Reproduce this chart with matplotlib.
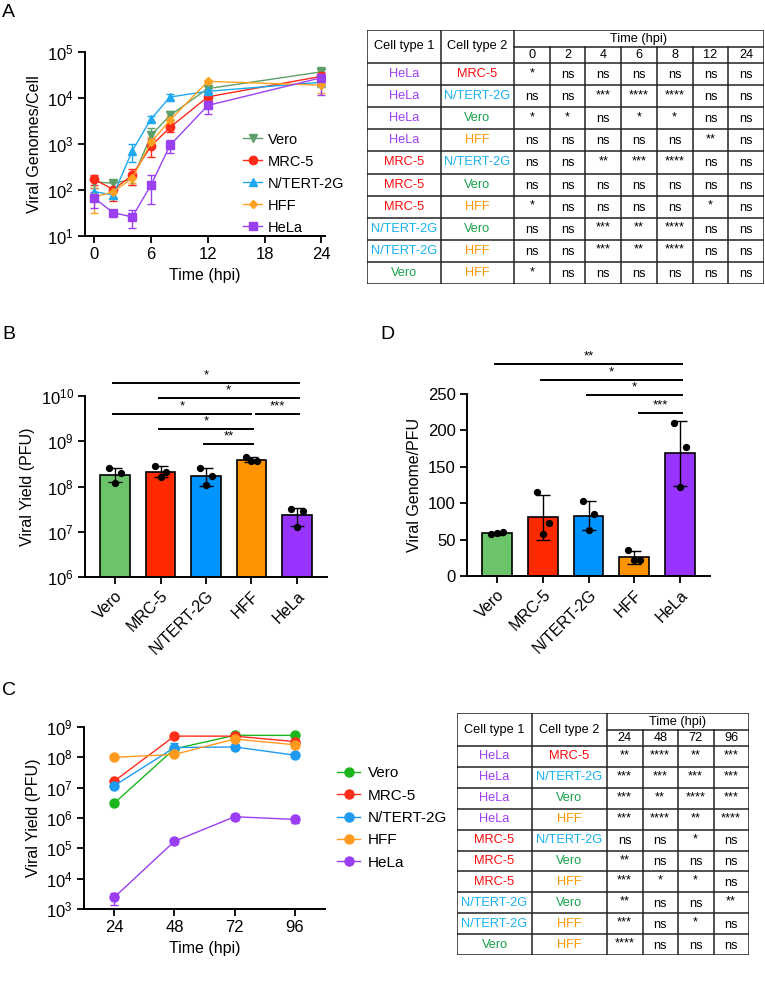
import numpy as np
import matplotlib
matplotlib.use('Agg')
import matplotlib.pyplot as plt
from matplotlib.ticker import LogLocator, NullLocator

plt.rcParams['font.family'] = ['Liberation Sans', 'DejaVu Sans']

# ---- data ----
cells = ['Vero', 'MRC-5', 'N/TERT-2G', 'HFF', 'HeLa']

# panel A: viral genomes per cell
a_time = [0, 2, 4, 6, 8, 12, 24]
a_vero = [150, 140, 170, 1550, 4200, 16000, 37000]
a_mrc5 = [170, 102, 210, 910, 2300, 10600, 29500]
a_ntert = [92, 78, 710, 3550, 10500, 14000, 22000]
a_hff = [70, 92, 180, 1100, 3300, 23000, 19000]
a_hela = [66, 32, 26, 130, 940, 6900, 27500]
a_vero_sd = [40, 25, 40, 650, 900, 3000, 10000]
a_mrc5_sd = [40, 45, 80, 400, 500, 3000, 8000]
a_ntert_sd = [20, 15, 300, 600, 1500, 2000, 5000]
a_hff_sd = [38, 20, 40, 300, 700, 2000, 6000]
a_hela_sd = [25, 3, 11, 80, 300, 2500, 16000]

# panel B: viral yield
b_mean = [1.8e8, 2.1e8, 1.75e8, 3.9e8, 2.35e7]
b_lo = [1.23e8, 1.65e8, 1.04e8, 3.5e8, 1.35e7]
b_hi = [2.5e8, 2.8e8, 2.55e8, 4.5e8, 3.4e7]
b_pts = [[2.5e8, 1.95e8, 1.2e8], [2.9e8, 2.1e8, 1.66e8], [2.6e8, 1.75e8, 1.07e8],
         [4.6e8, 3.6e8, 3.6e8], [3.2e7, 2.9e7, 1.26e7]]
b_sig = [(0, 4, '*'), (1, 4, '*'), (0, 3, '*'), (3, 4, '***'), (1, 3, '*'), (2, 3, '**')]

# panel D: genome / PFU
d_mean = [58.6, 80.6, 82.9, 25.6, 168.5]
d_sd = [2, 30.5, 19.5, 9, 44.5]
d_pts = [[57.2, 60.9, 59.5], [114.9, 72.8, 57.2], [103, 84.7, 63.2],
         [35.7, 22, 22], [209.7, 177.7, 121.8]]
d_sig = [(0, 4, '**'), (1, 4, '*'), (2, 4, '*'), (3, 4, '***')]

# panel C: yield over time
c_time = [24, 48, 72, 96]
c_vero = [3.05e6, 1.9e8, 5.3e8, 5.3e8]
c_mrc5 = [1.63e7, 5.0e8, 5.0e8, 3.3e8]
c_ntert = [1.15e7, 2.1e8, 2.2e8, 1.18e8]
c_hff = [1.0e8, 1.25e8, 4.0e8, 2.6e8]
c_hela = [2.4e3, 1.7e5, 1.1e6, 9.0e5]
c_ntert_sd = [1e6, 9e7, 2e7, 1e7]
c_hela_sd = [1000, 15000, 250000, 200000]

# statistics tables
pairs = [('HeLa', 'MRC-5'), ('HeLa', 'N/TERT-2G'), ('HeLa', 'Vero'), ('HeLa', 'HFF'),
         ('MRC-5', 'N/TERT-2G'), ('MRC-5', 'Vero'), ('MRC-5', 'HFF'),
         ('N/TERT-2G', 'Vero'), ('N/TERT-2G', 'HFF'), ('Vero', 'HFF')]
ta_times = ['0', '2', '4', '6', '8', '12', '24']
ta_sig = [['*', 'ns', 'ns', 'ns', 'ns', 'ns', 'ns'],
          ['ns', 'ns', '***', '****', '****', 'ns', 'ns'],
          ['*', '*', 'ns', '*', '*', 'ns', 'ns'],
          ['ns', 'ns', 'ns', 'ns', 'ns', '**', 'ns'],
          ['ns', 'ns', '**', '***', '****', 'ns', 'ns'],
          ['ns', 'ns', 'ns', 'ns', 'ns', 'ns', 'ns'],
          ['*', 'ns', 'ns', 'ns', 'ns', '*', 'ns'],
          ['ns', 'ns', '***', '**', '****', 'ns', 'ns'],
          ['ns', 'ns', '***', '**', '****', 'ns', 'ns'],
          ['*', 'ns', 'ns', 'ns', 'ns', 'ns', 'ns']]
tc_times = ['24', '48', '72', '96']
tc_sig = [['**', '****', '**', '***'],
          ['***', '***', '***', '***'],
          ['***', '**', '****', '***'],
          ['***', '****', '**', '****'],
          ['ns', 'ns', '*', 'ns'],
          ['**', 'ns', 'ns', 'ns'],
          ['***', '*', '*', 'ns'],
          ['**', 'ns', 'ns', '**'],
          ['***', 'ns', '*', 'ns'],
          ['****', 'ns', 'ns', 'ns']]

text_col = {'HeLa': '#9E3FF2', 'MRC-5': '#FF0A0A', 'N/TERT-2G': '#16B2F0',
            'Vero': '#18A04A', 'HFF': '#FF9500'}
bar_col = ['#6CC46A', '#FF2A00', '#0094FF', '#FF9400', '#9933FF']

W, H = 765, 984
fig = plt.figure(figsize=(W / 100, H / 100), dpi=100)


def px_axes(l, t, r, b):
    return fig.add_axes([l / W, 1 - b / H, (r - l) / W, (b - t) / H])


def style(ax):
    ax.spines['top'].set_visible(False)
    ax.spines['right'].set_visible(False)
    for s in ['left', 'bottom']:
        ax.spines[s].set_linewidth(1.4)
    ax.tick_params(width=1.3, length=5, labelsize=12, pad=3)


# ---- A ----
ax = px_axes(85, 52, 325, 236)
style(ax)
a_series = [(a_vero, a_vero_sd, 'v', '#5E9E68', 6),
            (a_mrc5, a_mrc5_sd, 'o', '#FF2A1A', 6),
            (a_ntert, a_ntert_sd, '^', '#1EA8F0', 5.5),
            (a_hff, a_hff_sd, 'D', '#FFA020', 4),
            (a_hela, a_hela_sd, 's', '#9B40F0', 6)]
handles = []
for name, (y, e, m, c, ms) in zip(cells, a_series):
    eb = ax.errorbar(a_time, y, yerr=e, marker=m, color=c, ms=ms, lw=1, capsize=3,
                     elinewidth=1, label=name)
    handles.append(eb[0])
ax.set_yscale('log')
ax.set_ylim(10, 1e5)
ax.set_xlim(-1, 24.4)
ax.set_xticks([0, 6, 12, 18, 24])
ax.yaxis.set_minor_locator(NullLocator())
ax.set_xlabel('Time (hpi)', fontsize=11.5)
ax.set_ylabel('Viral Genomes/Cell', fontsize=11.5)
ax.legend(handles, cells, loc='center left', bbox_to_anchor=(0.66, 0.285), frameon=False,
          fontsize=10.5, borderaxespad=0, borderpad=0, handlelength=1.3,
          handletextpad=0.4, labelspacing=0.55)


def draw_table(l, t, r, b, times, sig, c1, c2, hh, fs=9.2):
    tab = px_axes(l, t, r, b)
    w, h = r - l, b - t
    tab.set_xlim(0, w)
    tab.set_ylim(h, 0)
    tab.axis('off')
    n = len(times)
    tw = (w - c1 - c2) / n
    rh = (h - hh) / len(sig)
    lc = '#222222'
    lw = 1.1
    # vertical lines
    for x in [0, c1, c1 + c2, w]:
        tab.plot([x, x], [0, h], color=lc, lw=lw)
    for i in range(1, n):
        x = c1 + c2 + i * tw
        tab.plot([x, x], [hh / 2, h], color=lc, lw=lw)
    # horizontal lines
    for i in range(len(sig) + 1):
        y = hh + i * rh
        tab.plot([0, w], [y, y], color=lc, lw=lw)
    tab.plot([0, w], [0, 0], color=lc, lw=lw)
    tab.plot([c1 + c2, w], [hh / 2, hh / 2], color=lc, lw=lw)
    tab.text(c1 / 2, hh / 2, 'Cell type 1', ha='center', va='center', fontsize=fs)
    tab.text(c1 + c2 / 2, hh / 2, 'Cell type 2', ha='center', va='center', fontsize=fs)
    tab.text(c1 + c2 + (w - c1 - c2) / 2, hh / 4 + 0.5, 'Time (hpi)', ha='center',
             va='center', fontsize=fs)
    for i, tt in enumerate(times):
        tab.text(c1 + c2 + (i + 0.5) * tw, hh * 0.75 + 0.5, tt, ha='center',
                 va='center', fontsize=fs)
    for r_i, ((p1, p2), row) in enumerate(zip(pairs, sig)):
        yc = hh + (r_i + 0.5) * rh
        tab.text(c1 / 2, yc, p1, ha='center', va='center', fontsize=fs, color=text_col[p1])
        tab.text(c1 + c2 / 2, yc, p2, ha='center', va='center', fontsize=fs,
                 color=text_col[p2])
        for j, s in enumerate(row):
            yy = yc + 1 if s == 'ns' else yc - 1
            tab.text(c1 + c2 + (j + 0.5) * tw, yy, s, ha='center', va='center',
                     fontsize=fs)


draw_table(367, 30, 764, 284, ta_times, ta_sig, 74, 73, 33)


def sig_bars(ax, sigs, levels, tf):
    for (i, j, s), lv in zip(sigs, levels):
        x0, x1 = i - 0.04, j + 0.04
        if s == '***' and i == 3:
            x0 = i + 0.1
        if i == 0 and j == 3:
            x1 = j - 0.02
        ax.plot([x0, x1], [tf(lv), tf(lv)], color='black', lw=1.4, clip_on=False)
        ax.annotate(s, xy=((x0 + x1) / 2, tf(lv)), xytext=(0, 1),
                    textcoords='offset points', ha='center', va='bottom',
                    fontsize=9.5, annotation_clip=False)


xpos = np.arange(len(cells))
jit = [-0.13, 0.13, 0.0]

# ---- B ----
ax = px_axes(85, 396, 327, 577)
style(ax)
ax.bar(xpos, b_mean, width=0.65, color=bar_col, edgecolor='black', lw=1.2, zorder=2)
ax.errorbar(xpos, b_mean,
            yerr=[np.array(b_mean) - np.array(b_lo), np.array(b_hi) - np.array(b_mean)],
            fmt='none', ecolor='black', elinewidth=1, capsize=5, zorder=3)
for i, pts in enumerate(b_pts):
    ax.scatter(xpos[i] + np.array(jit), pts, s=18, color='black', zorder=4)
ax.set_yscale('log')
ax.set_ylim(1e6, 1e10)
ax.set_xlim(-0.66, 4.66)
ax.yaxis.set_major_locator(LogLocator(base=10, numticks=10))
ax.yaxis.set_minor_locator(NullLocator())
ax.set_xticks(xpos)
ax.set_xticklabels(cells, rotation=45, ha='right', rotation_mode='anchor', fontsize=11.5)
ax.set_ylabel('Viral Yield (PFU)', fontsize=11.5)
sig_bars(ax, b_sig, [10.29, 9.96, 9.6, 9.6, 9.27, 8.94], lambda v: 10 ** v)

# ---- D ----
ax = px_axes(467, 394, 710, 576)
style(ax)
ax.bar(xpos, d_mean, width=0.65, color=bar_col, edgecolor='black', lw=1.2, zorder=2)
ax.errorbar(xpos, d_mean, yerr=d_sd, fmt='none', ecolor='black', elinewidth=1,
            capsize=5, zorder=3)
for i, pts in enumerate(d_pts):
    ax.scatter(xpos[i] + np.array(jit), pts, s=18, color='black', zorder=4)
ax.set_ylim(0, 250)
ax.set_xlim(-0.66, 4.66)
ax.set_yticks([0, 50, 100, 150, 200, 250])
ax.set_xticks(xpos)
ax.set_xticklabels(cells, rotation=45, ha='right', rotation_mode='anchor', fontsize=11.5)
ax.set_ylabel('Viral Genome/PFU', fontsize=11.5)
sig_bars(ax, d_sig, [291, 269, 248.6, 224], lambda v: v)

# ---- C ----
ax = px_axes(84, 727, 325, 909)
style(ax)
c_series = [(c_vero, None, '#1DB51D'), (c_mrc5, None, '#FF2E1A'),
            (c_ntert, c_ntert_sd, '#1E9BF0'), (c_hff, None, '#FF9A1E'),
            (c_hela, c_hela_sd, '#9B3DF0')]
handles = []
for name, (y, e, c) in zip(cells, c_series):
    eb = ax.errorbar(c_time, y, yerr=e, marker='o', color=c, ms=6.5, lw=1, capsize=3,
                     elinewidth=1, label=name)
    handles.append(eb[0])
ax.set_yscale('log')
ax.set_ylim(1e3, 1e9)
ax.set_xlim(12, 108)
ax.set_xticks(c_time)
ax.yaxis.set_major_locator(LogLocator(base=10, numticks=10))
ax.yaxis.set_minor_locator(NullLocator())
ax.set_xlabel('Time (hpi)', fontsize=11.5)
ax.set_ylabel('Viral Yield (PFU)', fontsize=11.5)
ax.legend(handles, cells, loc='center left', bbox_to_anchor=(1.05, 0.5), frameon=False,
          fontsize=11, borderaxespad=0, borderpad=0, handlelength=1.5,
          handletextpad=0.5, labelspacing=0.55)

draw_table(457, 713, 749, 955, tc_times, tc_sig, 75, 75, 33)

# panel letters
for lab, x, y in [('A', 2, 4), ('B', 2, 326), ('D', 380, 326), ('C', 2, 682)]:
    fig.text(x / W, 1 - y / H, lab, fontsize=14, va='top', ha='left')

fig.savefig('out.png', dpi=100)
